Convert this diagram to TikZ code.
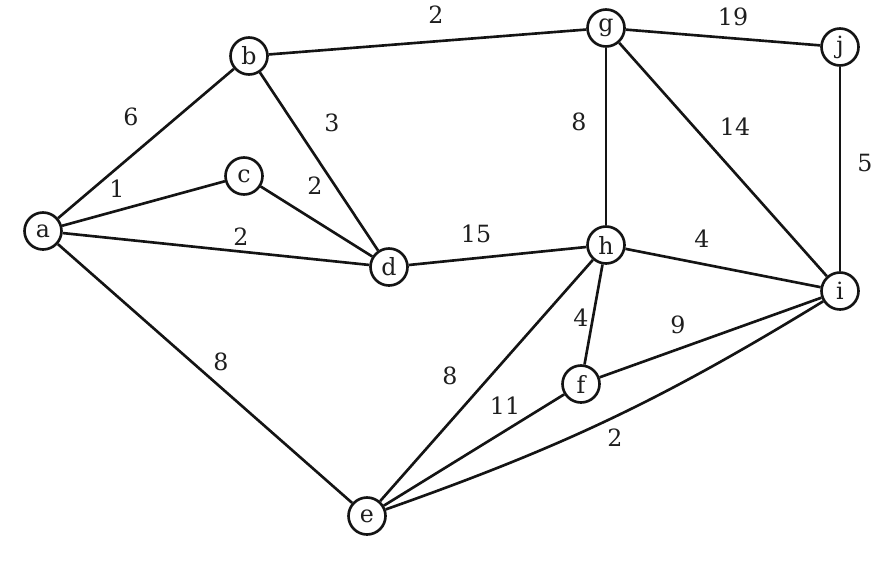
\documentclass[tikz,border=0pt]{standalone}
\usepackage{fontspec}
\setmainfont{DejaVu Serif}
\usepackage{xcolor}
\definecolor{textcolor}{RGB}{30,30,30}
\definecolor{edgecolor}{RGB}{20,20,20}
\usepackage{tikz}
\usetikzlibrary{arrows.meta,calc}

\begin{document}
\begin{tikzpicture}[x=0.02cm, y=-0.02cm,
  every node/.style={color=textcolor, font=\fontsize{13.5}{16}\selectfont},
  vertex/.style={circle, draw=edgecolor, line width=1.5pt, fill=white, minimum size=0.74cm, inner sep=0pt},
  edge/.style={draw=edgecolor, line width=1.5pt}]
  \useasboundingbox (0,0) rectangle (881,561);

  \node[vertex] (a) at (43,231) {a};
  \node[vertex] (b) at (249,56) {b};
  \node[vertex] (c) at (244,176) {c};
  \node[vertex] (d) at (389,267) {d};
  \node[vertex] (g) at (606,28) {g};
  \node[vertex] (j) at (840,47) {j};
  \node[vertex] (h) at (606,245) {h};
  \node[vertex] (i) at (840,291) {i};
  \node[vertex] (f) at (581,384) {f};
  \node[vertex] (e) at (367,516) {e};

  \draw[edge] (a) -- (b);
  \draw[edge] (a) -- (c);
  \draw[edge] (a) -- (d);
  \draw[edge] (a) -- (e);
  \draw[edge] (b) -- (g);
  \draw[edge] (b) -- (d);
  \draw[edge] (c) -- (d);
  \draw[edge] (d) -- (h);
  \draw[edge] (g) -- (j);
  \draw[edge] (g) -- (h);
  \draw[edge] (g) -- (i);
  \draw[edge] (j) -- (i);
  \draw[edge] (h) -- (i);
  \draw[edge] (h) -- (f);
  \draw[edge] (h) -- (e);
  \draw[edge] (f) -- (i);
  \draw[edge] (f) -- (e);
  \draw[edge] (e) to[bend right=6] (i);

  \node (wab) at (131,117) {6};
  \node (wac) at (117,189) {1};
  \node (wad) at (241,237) {2};
  \node (wae) at (221,362) {8};
  \node (wbg) at (436,15) {2};
  \node (wbd) at (332,123) {3};
  \node (wcd) at (315,186) {2};
  \node (wdh) at (476,234) {15};
  \node (wgj) at (733,17) {19};
  \node (wgh) at (579,122) {8};
  \node (wgi) at (735,127) {14};
  \node (wji) at (865,163) {5};
  \node (whi) at (702,239) {4};
  \node (whf) at (581,318) {4};
  \node (whe) at (450,376) {8};
  \node (wfi) at (678,325) {9};
  \node (wfe) at (505,406) {11};
  \node (wei) at (615,438) {2};
\end{tikzpicture}
\end{document}
